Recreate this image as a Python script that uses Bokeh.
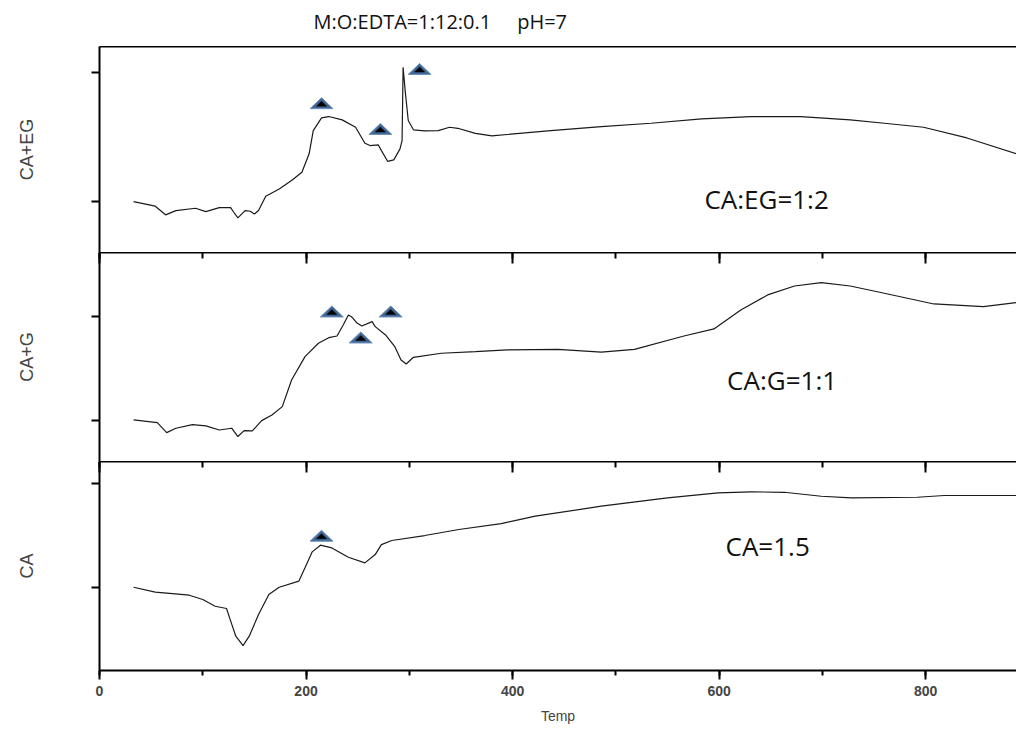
from bokeh.plotting import figure
from bokeh.models import Range1d, LinearAxis, FixedTicker, SingleIntervalTicker, Label
from bokeh.layouts import column
from bokeh.embed import file_html
from bokeh.resources import INLINE

# ---------------- data ----------------
x_ticks_interval = 200
panel_labels = ["CA+EG", "CA+G", "CA"]
ratio_labels = ["CA:EG=1:2", "CA:G=1:1", "CA=1.5"]
title_text = "M:O:EDTA=1:12:0.1\u00a0\u00a0\u00a0\u00a0\u00a0pH=7"

ceg_x = [33, 54, 64, 74, 93, 103, 116, 127, 130, 134, 141, 146, 150, 154, 161, 174, 186, 196,
         203, 207, 215, 222, 235, 248, 257, 262, 270, 273, 279, 285, 291, 293, 294, 296, 299,
         304, 315, 328, 339, 347, 364, 380, 437, 486, 534, 583, 631, 679, 727, 760, 798, 840, 888]
ceg_y = [0.00, -0.36, -1.03, -0.70, -0.52, -0.78, -0.47, -0.47, -0.83, -1.27, -0.70, -0.75, -0.96,
         -0.70, 0.41, 0.98, 1.63, 2.27, 3.70, 5.50, 6.49, 6.59, 6.33, 5.76, 4.52, 4.34, 4.39, 3.95,
         3.12, 3.23, 4.08, 4.73, 10.41, 8.60, 6.28, 5.56, 5.48, 5.50, 5.76, 5.68, 5.29, 5.09, 5.50,
         5.81, 6.07, 6.41, 6.59, 6.59, 6.33, 6.07, 5.76, 4.93, 3.70]

cg_x = [33, 56, 65, 74, 90, 103, 116, 128, 134, 140, 148, 157, 167, 177, 186, 199, 212, 222, 230,
        236, 241, 244, 249, 254, 264, 267, 277, 286, 292, 297, 304, 331, 364, 395, 444, 486, 518,
        566, 595, 621, 647, 673, 699, 727, 760, 808, 856, 888]
cg_y = [0.10, -0.16, -1.12, -0.70, -0.35, -0.48, -0.87, -0.70, -1.50, -0.93, -0.96, 0.03, 0.58,
        1.38, 3.94, 6.19, 7.47, 8.01, 8.17, 9.23, 10.19, 10.03, 9.45, 9.13, 9.55, 9.07, 8.27, 7.14,
        5.87, 5.48, 6.12, 6.51, 6.66, 6.83, 6.89, 6.61, 6.89, 8.17, 8.85, 10.67, 12.12, 12.98,
        13.30, 12.98, 12.28, 11.25, 10.99, 11.38]

ca_x = [33, 54, 87, 100, 112, 123, 126, 132, 139, 145, 154, 164, 174, 193, 199, 206, 214, 225,
        241, 257, 267, 273, 283, 315, 348, 389, 422, 486, 550, 599, 631, 663, 699, 728, 792, 818, 888]
ca_y = [0.03, -0.45, -0.74, -1.15, -1.80, -2.02, -2.92, -4.68, -5.58, -4.68, -2.60, -0.67, 0.03,
        0.61, 1.89, 3.43, 4.07, 3.81, 2.91, 2.37, 3.17, 4.13, 4.52, 5.00, 5.58, 6.15, 6.86, 7.82,
        8.62, 9.10, 9.20, 9.16, 8.78, 8.62, 8.68, 8.85, 8.85]

ceg_mk_x = [215, 272, 310]
ceg_mk_y = [7.2, 5.2, 9.85]
cg_mk_x = [225, 253, 282]
cg_mk_y = [10.0, 7.5, 10.0]
ca_mk_x = [215]
ca_mk_y = [4.45]

# ---------------- layout constants ----------------
X_MAX = 888
FRAME_W = 917
LEFT = 99
TOP_H = 46
xr = Range1d(0, X_MAX)
PX_PER_X = FRAME_W / X_MAX

LINE_COLOR = "#1a1a1a"
TRI_FILL = "#3f6896"
TRI_LINE = "#7090b8"


def tri_patches(mx, my, px_per_y, w_px, h_px, lift_px=0.0):
    xs, ys = [], []
    hw = (w_px / 2) / PX_PER_X
    h = h_px / px_per_y
    lift = lift_px / px_per_y
    for x, y in zip(mx, my):
        xs.append([x - hw, x + hw, x])
        ys.append([y + lift, y + lift, y + lift + h])
    return xs, ys


def make_panel(frame_h, ylo, yhi, ylabel, top_ticks, min_bottom):
    p = figure(frame_width=FRAME_W, frame_height=frame_h, x_range=xr, y_range=Range1d(ylo, yhi),
               output_backend="svg", toolbar_location=None, x_axis_location=None,
               y_axis_location=None, min_border_left=LEFT, min_border_right=0,
               min_border_top=0, min_border_bottom=min_bottom)
    p.outline_line_color = None
    p.grid.visible = False
    p.background_fill_color = "white"
    p.border_fill_color = "white"

    ya = LinearAxis(ticker=FixedTicker(ticks=[0, 10]), axis_label=ylabel,
                    major_label_text_font_size="0px", major_label_text_color=None,
                    major_label_standoff=0,
                    major_tick_out=8, major_tick_in=0, minor_tick_out=0, minor_tick_in=0,
                    axis_line_width=2, major_tick_line_width=2,
                    axis_label_text_font="Liberation Sans", axis_label_text_font_size="18px",
                    axis_label_text_font_style="normal", axis_label_standoff=55)
    p.add_layout(ya, "left")

    ta = LinearAxis(ticker=SingleIntervalTicker(interval=x_ticks_interval, num_minor_ticks=2),
                    major_label_text_font_size="0px", major_label_text_color=None,
                    major_label_standoff=0,
                    major_tick_in=11 if top_ticks else 0, major_tick_out=0,
                    minor_tick_in=6 if top_ticks else 0, minor_tick_out=0,
                    axis_line_width=2, major_tick_line_width=2, minor_tick_line_width=2)
    p.add_layout(ta, "above")
    return p


# title strip above the panels (frame measured in pixels)
pt = figure(frame_width=FRAME_W, frame_height=TOP_H, x_range=Range1d(0, FRAME_W),
            y_range=Range1d(0, TOP_H), output_backend="svg", toolbar_location=None,
            x_axis_location=None, y_axis_location=None, min_border_left=LEFT,
            min_border_right=0, min_border_top=0, min_border_bottom=0)
pt.outline_line_color = None
pt.grid.visible = False
pt.add_layout(Label(x=214, y=TOP_H - 21, text=title_text, text_align="left",
                    text_baseline="middle", text_font="Open Sans", text_font_size="20px",
                    text_color="#111111"))

# top panel: frame 206 px, ticks 0/10 at 12.9 px/unit
Y1_LO, Y1_HI = -3.95, 12.02
p1 = make_panel(206, Y1_LO, Y1_HI, panel_labels[0], False, 0)
p2 = make_panel(209, -3.9, 16.2, panel_labels[1], True, 0)
p3 = make_panel(209, -7.98, 12.12, panel_labels[2], True, 61)

ba = LinearAxis(ticker=SingleIntervalTicker(interval=x_ticks_interval, num_minor_ticks=2),
                axis_label="Temp", major_tick_out=9, major_tick_in=0, minor_tick_out=5,
                minor_tick_in=0, axis_line_width=2, major_tick_line_width=2,
                minor_tick_line_width=2, major_label_text_font="Liberation Sans",
                major_label_text_font_style="bold", major_label_text_font_size="14px",
                major_label_standoff=6, axis_label_text_font="Liberation Sans",
                axis_label_text_font_size="14px", axis_label_text_font_style="normal",
                axis_label_standoff=9)
p3.add_layout(ba, "below")

panels = [
    (p1, ceg_x, ceg_y, ceg_mk_x, ceg_mk_y, 206 / (Y1_HI - Y1_LO), (646, 0.2)),
    (p2, cg_x, cg_y, cg_mk_x, cg_mk_y, 209 / 20.1, (661, 3.9)),
    (p3, ca_x, ca_y, ca_mk_x, ca_mk_y, 209 / 20.1, (647, 4.0)),
]

for (p, xs, ys, mx, my, ppy, lab_pos), rl in zip(panels, ratio_labels):
    p.line(xs, ys, line_color=LINE_COLOR, line_width=1.2)
    oxs, oys = tri_patches(mx, my, ppy, 23, 11)
    p.patches(oxs, oys, fill_color=TRI_FILL, line_color=TRI_LINE, line_width=1)
    ixs, iys = tri_patches(mx, my, ppy, 10, 5, 2.5)
    p.patches(ixs, iys, fill_color="black", line_color="black", line_width=0.5)
    p.add_layout(Label(x=lab_pos[0], y=lab_pos[1], text=rl, text_align="center",
                       text_baseline="middle", text_font="Open Sans", text_font_size="26px",
                       text_color="#111111"))

layout = column(pt, p1, p2, p3, spacing=0)
open("out.html", "w").write(file_html(layout, INLINE))
